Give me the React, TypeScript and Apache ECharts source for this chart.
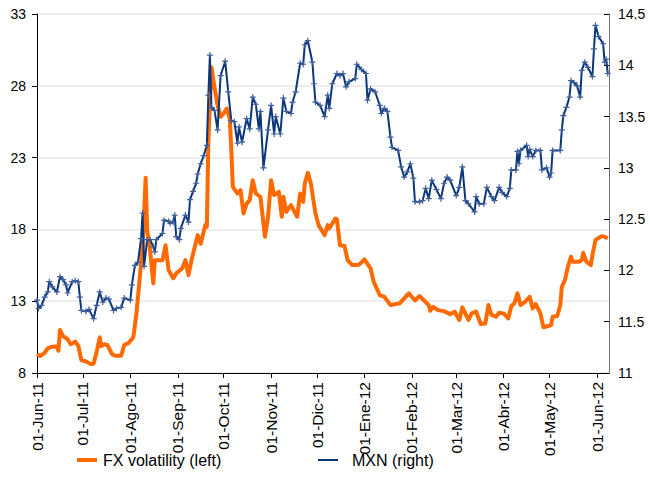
import React, { useEffect, useRef } from "react";
import * as echarts from "echarts";

const monthTicks = ["2011-06-01","2011-07-01","2011-08-01","2011-09-01","2011-10-01","2011-11-01","2011-12-01","2012-01-01","2012-02-01","2012-03-01","2012-04-01","2012-05-01","2012-06-01"];
const monthLabels = ["01-Jun-11","01-Jul-11","01-Ago-11","01-Sep-11","01-Oct-11","01-Nov-11","01-Dic-11","01-Ene-12","01-Feb-12","01-Mar-12","01-Abr-12","01-May-12","01-Jun-12"];
const leftTicks = [8, 13, 18, 23, 28, 33];

const fxDates = ["2011-06-01","2011-06-03","2011-06-06","2011-06-08","2011-06-11","2011-06-14","2011-06-15","2011-06-16","2011-06-18","2011-06-21","2011-06-23","2011-06-26","2011-06-28","2011-06-30","2011-07-03","2011-07-06","2011-07-08","2011-07-10","2011-07-12","2011-07-13","2011-07-15","2011-07-17","2011-07-20","2011-07-22","2011-07-26","2011-07-28","2011-07-31","2011-08-03","2011-08-05","2011-08-07","2011-08-09","2011-08-10","2011-08-11","2011-08-12","2011-08-14","2011-08-16","2011-08-17","2011-08-22","2011-08-24","2011-08-26","2011-08-29","2011-08-31","2011-09-04","2011-09-06","2011-09-08","2011-09-10","2011-09-14","2011-09-16","2011-09-19","2011-09-20","2011-09-21","2011-09-23","2011-09-25","2011-09-27","2011-09-29","2011-10-01","2011-10-03","2011-10-05","2011-10-06","2011-10-07","2011-10-10","2011-10-12","2011-10-14","2011-10-16","2011-10-18","2011-10-20","2011-10-22","2011-10-25","2011-10-28","2011-10-30","2011-11-01","2011-11-03","2011-11-06","2011-11-08","2011-11-09","2011-11-11","2011-11-14","2011-11-18","2011-11-20","2011-11-22","2011-11-23","2011-11-25","2011-11-27","2011-11-30","2011-12-02","2011-12-06","2011-12-08","2011-12-09","2011-12-13","2011-12-14","2011-12-16","2011-12-19","2011-12-21","2011-12-24","2011-12-28","2011-12-30","2012-01-01","2012-01-05","2012-01-07","2012-01-11","2012-01-14","2012-01-18","2012-01-24","2012-01-30","2012-02-03","2012-02-06","2012-02-12","2012-02-13","2012-02-15","2012-02-18","2012-02-22","2012-02-26","2012-02-29","2012-03-03","2012-03-05","2012-03-09","2012-03-11","2012-03-14","2012-03-17","2012-03-20","2012-03-22","2012-03-24","2012-03-27","2012-03-29","2012-04-01","2012-04-04","2012-04-06","2012-04-08","2012-04-10","2012-04-12","2012-04-15","2012-04-18","2012-04-20","2012-04-22","2012-04-25","2012-04-27","2012-04-30","2012-05-02","2012-05-03","2012-05-06","2012-05-08","2012-05-09","2012-05-11","2012-05-13","2012-05-15","2012-05-16","2012-05-20","2012-05-22","2012-05-23","2012-05-25","2012-05-28","2012-05-29","2012-05-31","2012-06-04","2012-06-06","2012-06-08"];
const fxValues = [9.30,9.18,9.40,9.72,9.83,9.85,9.55,11.0,10.57,10.35,10.0,10.18,9.88,8.9,8.8,8.63,8.65,9.48,10.48,9.87,10.0,9.95,9.32,9.2,9.2,9.95,10.1,10.5,12.15,14.47,16.8,19.1,21.6,17.95,16.44,14.24,15.86,15.86,16.9,15.17,14.59,14.94,15.29,15.86,14.82,15.86,17.6,17.0,18.3,18.18,24.2,29.3,27.9,26.65,25.84,26.07,26.42,25.7,23.5,20.96,20.5,20.73,19.11,19.8,20.04,21.43,20.5,20.27,17.49,18.88,21.43,20.39,20.62,18.88,20.27,19.22,19.69,18.88,20.5,19.92,21.2,21.94,21.2,19.11,18.3,17.6,18.3,18.07,18.76,18.7,16.9,16.84,15.86,15.52,15.52,15.68,15.91,15.29,14.36,13.43,13.31,12.73,12.85,13.55,13.05,13.36,12.73,12.34,12.61,12.38,12.31,12.1,12.27,11.69,12.57,11.69,12.15,12.27,11.41,11.45,12.73,12.04,11.92,12.2,12.15,11.8,12.66,12.85,13.55,12.73,12.96,13.31,12.5,12.8,12.15,11.18,11.27,11.34,11.92,11.97,12.73,14.0,14.47,15.4,16.1,15.75,15.75,15.86,16.37,15.75,15.52,16.21,17.26,17.53,17.49,17.37];

const mxnDates = ["2011-06-01","2011-06-02","2011-06-04","2011-06-06","2011-06-08","2011-06-09","2011-06-11","2011-06-14","2011-06-16","2011-06-18","2011-06-20","2011-06-21","2011-06-24","2011-06-26","2011-06-28","2011-06-29","2011-06-30","2011-07-03","2011-07-05","2011-07-08","2011-07-10","2011-07-12","2011-07-14","2011-07-16","2011-07-18","2011-07-21","2011-07-23","2011-07-26","2011-07-28","2011-08-01","2011-08-02","2011-08-04","2011-08-06","2011-08-08","2011-08-09","2011-08-10","2011-08-12","2011-08-14","2011-08-16","2011-08-17","2011-08-18","2011-08-22","2011-08-23","2011-08-26","2011-08-27","2011-08-29","2011-08-30","2011-08-31","2011-09-02","2011-09-03","2011-09-06","2011-09-08","2011-09-09","2011-09-11","2011-09-13","2011-09-14","2011-09-16","2011-09-18","2011-09-20","2011-09-21","2011-09-22","2011-09-23","2011-09-25","2011-09-27","2011-09-29","2011-10-02","2011-10-04","2011-10-06","2011-10-08","2011-10-10","2011-10-11","2011-10-13","2011-10-16","2011-10-18","2011-10-20","2011-10-22","2011-10-24","2011-10-25","2011-10-27","2011-10-30","2011-11-01","2011-11-03","2011-11-04","2011-11-07","2011-11-09","2011-11-11","2011-11-14","2011-11-15","2011-11-17","2011-11-20","2011-11-22","2011-11-23","2011-11-25","2011-11-28","2011-11-29","2011-11-30","2011-12-03","2011-12-06","2011-12-08","2011-12-09","2011-12-11","2011-12-14","2011-12-16","2011-12-18","2011-12-20","2011-12-22","2011-12-26","2011-12-27","2011-12-30","2012-01-02","2012-01-03","2012-01-05","2012-01-08","2012-01-11","2012-01-12","2012-01-14","2012-01-16","2012-01-18","2012-01-19","2012-01-23","2012-01-25","2012-01-27","2012-01-29","2012-01-31","2012-02-02","2012-02-03","2012-02-06","2012-02-08","2012-02-10","2012-02-12","2012-02-14","2012-02-17","2012-02-20","2012-02-22","2012-02-24","2012-02-26","2012-03-01","2012-03-03","2012-03-05","2012-03-07","2012-03-09","2012-03-13","2012-03-14","2012-03-16","2012-03-19","2012-03-21","2012-03-24","2012-03-26","2012-03-29","2012-03-31","2012-04-03","2012-04-05","2012-04-06","2012-04-09","2012-04-10","2012-04-11","2012-04-12","2012-04-16","2012-04-17","2012-04-18","2012-04-20","2012-04-22","2012-04-25","2012-04-26","2012-04-29","2012-05-01","2012-05-02","2012-05-03","2012-05-08","2012-05-09","2012-05-10","2012-05-12","2012-05-14","2012-05-15","2012-05-17","2012-05-19","2012-05-21","2012-05-22","2012-05-24","2012-05-26","2012-05-29","2012-05-30","2012-05-31","2012-06-02","2012-06-05","2012-06-06","2012-06-07","2012-06-08"];
const mxnValues = [11.71,11.63,11.66,11.74,11.79,11.89,11.84,11.79,11.94,11.91,11.86,11.78,11.89,11.90,11.89,11.74,11.61,11.60,11.62,11.53,11.66,11.79,11.69,11.73,11.72,11.61,11.63,11.64,11.73,11.71,11.86,12.05,12.08,12.31,12.56,12.04,12.30,12.30,12.23,12.18,12.30,12.36,12.49,12.48,12.46,12.47,12.54,12.33,12.30,12.41,12.54,12.47,12.69,12.77,12.85,12.94,13.04,13.12,13.22,13.71,14.10,13.59,13.56,13.37,13.90,14.04,13.74,13.46,13.45,13.24,13.40,13.25,13.48,13.38,13.69,13.62,13.38,13.55,13.00,13.37,13.61,13.33,13.50,13.33,13.68,13.55,13.53,13.64,13.74,14.02,14.01,14.20,14.24,14.03,13.82,13.64,13.61,13.50,13.71,13.58,13.82,13.92,13.90,13.92,13.79,13.84,13.87,14.01,13.96,13.92,13.66,13.77,13.74,13.61,13.53,13.58,13.55,13.30,13.20,13.17,13.01,12.91,12.96,13.04,12.90,12.67,12.67,12.68,12.80,12.70,12.88,12.79,12.70,12.85,12.91,12.88,12.73,12.81,13.01,12.68,12.65,12.57,12.72,12.65,12.65,12.81,12.72,12.68,12.81,12.76,12.72,12.80,12.98,12.98,13.16,13.04,13.17,13.22,13.11,13.18,13.11,13.17,13.17,12.98,13.00,12.91,12.95,13.17,13.17,13.37,13.51,13.59,13.69,13.85,13.83,13.80,13.69,13.95,14.03,13.98,13.89,14.16,14.39,14.28,14.21,14.03,14.06,13.92];

const ts = (s: string) => {
  const [y, m, d] = s.split("-").map(Number);
  return Date.UTC(y, m - 1, d);
};

const FONT = "'Liberation Sans', Arial, sans-serif";
const ORANGE = "#ff6a00";
const NAVY = "#0a367a";

export default function App() {
  const ref = useRef<HTMLDivElement>(null);
  useEffect(() => {
    if (!ref.current) return;
    const chart = echarts.init(ref.current, undefined, { renderer: "svg" });
    const tickTs = monthTicks.map(ts);
    const fxData = fxDates.map((d, i) => [ts(d), fxValues[i]]);
    const mxnData = mxnDates.map((d, i) => [ts(d), mxnValues[i]]);
    chart.setOption({
      animation: false,
      backgroundColor: "#ffffff",
      textStyle: { fontFamily: FONT },
      grid: { left: 37, right: 41, top: 14, bottom: 119, containLabel: false },
      xAxis: {
        type: "value",
        min: ts("2011-06-01"),
        max: ts("2012-06-09") - 4 * 3600 * 1000,
        axisLine: { show: true, onZero: false, lineStyle: { color: "#000", width: 1 } },
        axisTick: { show: true, length: 5, customValues: tickTs, lineStyle: { color: "#000" } },
        axisLabel: {
          customValues: tickTs,
          rotate: 90,
          margin: 9,
          fontSize: 15.5,
          color: "#000",
          fontFamily: FONT,
          formatter: (v: number) => {
            const i = tickTs.findIndex((t) => Math.abs(t - v) < 3600 * 1000 * 3);
            return i >= 0 ? monthLabels[i] : "";
          },
        },
        splitLine: { show: false },
      },
      yAxis: [
        {
          type: "value",
          position: "left",
          min: 8,
          max: 33,
          axisLine: { show: true, lineStyle: { color: "#000" } },
          axisTick: { show: true, length: 5, customValues: leftTicks, lineStyle: { color: "#000" } },
          axisLabel: {
            customValues: leftTicks,
            margin: 11,
            fontSize: 14,
            color: "#000",
            fontFamily: FONT,
            formatter: (v: number) => String(v),
          },
          splitLine: { show: false },
        },
        {
          type: "value",
          position: "right",
          min: 11,
          max: 14.5,
          interval: 0.5,
          axisLine: { show: true, lineStyle: { color: "#707070" } },
          axisTick: { show: true, inside: true, length: 5, lineStyle: { color: "#000" } },
          axisLabel: { margin: 9, fontSize: 14, color: "#000", fontFamily: FONT },
          splitLine: { show: false },
        },
        {
          type: "value",
          position: "left",
          min: 0,
          max: 25,
          interval: 5,
          show: true,
          axisLine: { show: false },
          axisTick: { show: false },
          axisLabel: { show: false },
          splitLine: { show: true, lineStyle: { color: "#e8e8ee", width: 1.5 } },
        },
      ],
      legend: [
        {
          data: [{ name: "FX volatility (left)", itemStyle: { color: ORANGE } }],
          left: 72,
          top: 447,
          icon: "rect",
          itemWidth: 20,
          itemHeight: 4,
          textStyle: { fontSize: 16, color: "#000", fontFamily: FONT, padding: [0, 0, 0, 1] },
        },
        {
          data: [{ name: "MXN (right)", itemStyle: { color: NAVY } }],
          left: 313,
          top: 447,
          icon: "rect",
          itemWidth: 20,
          itemHeight: 2,
          textStyle: { fontSize: 16, color: "#000", fontFamily: FONT, padding: [0, 0, 0, 9] },
        },
      ],
      series: [
        {
          name: "FX volatility (left)",
          type: "line",
          yAxisIndex: 0,
          data: fxData,
          showSymbol: false,
          symbol: "none",
          lineStyle: { color: ORANGE, width: 4, join: "round" },
          itemStyle: { color: ORANGE },
          z: 2,
        },
        {
          name: "MXN (right)",
          type: "line",
          yAxisIndex: 1,
          data: mxnData,
          symbol: "path://M2,0H3V2H5V3H3V5H2V3H0V2H2Z",
          symbolSize: 6,
          showSymbol: true,
          lineStyle: { color: NAVY, width: 2 },
          itemStyle: { color: "#3e5f9c" },
          z: 3,
        },
      ],
    });
    return () => chart.dispose();
  }, []);
  return (
    <div
      ref={ref}
      style={{ position: "absolute", left: 0, top: 0, width: 650, height: 492, background: "#fff" }}
    />
  );
}
